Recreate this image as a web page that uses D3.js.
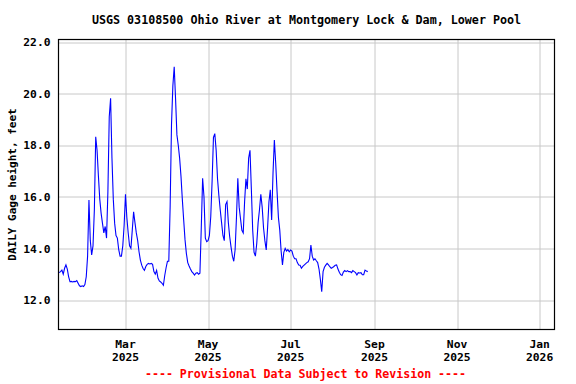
<!DOCTYPE html>
<html>
<head>
<meta charset="utf-8">
<script src="https://cdn.jsdelivr.net/npm/d3@7"></script>
<style>
  body { margin: 0; background: #fff; }
  text { font-family: "DejaVu Sans Mono", "Liberation Mono", monospace; font-weight: bold; }
</style>
</head>
<body>
<div id="chart"></div>
<script>
// daily gage height, one value per day starting Jan 11 2025
const startDate = new Date(2025, 0, 11);
const gageHeight = [
  13.06, 13.1, 13.16, 13.0, 13.23, 13.36, 13.2, 12.9, 12.71, 12.72, 12.7, 12.72, 12.71, 12.75, 12.65, 12.55, 12.52, 12.55, 12.52, 12.6, 12.9,
  13.7, 15.88, 14.3, 13.75, 14.1, 15.5, 18.33, 17.8, 16.8, 15.9, 15.36, 14.97, 14.6, 14.85, 14.4, 16.2, 19.1, 19.82, 17.5, 15.9, 14.97,
  14.5, 14.4, 13.95, 13.7, 13.7, 14.1, 14.9,
  16.1, 15.2, 14.6, 14.1, 14.0, 14.7, 15.42, 15.0, 14.6, 14.3, 13.87, 13.55, 13.35, 13.22, 13.15, 13.3, 13.38, 13.42, 13.4, 13.42, 13.38,
  13.1, 13.0, 13.15, 12.85, 12.74, 12.7, 12.65, 12.57, 12.95, 13.25, 13.5, 13.5, 15.62, 18.8, 20.3, 21.04, 19.8, 18.4, 18.0, 17.5, 16.8,
  15.9, 15.1, 14.33, 13.8, 13.45, 13.32, 13.2, 13.1,
  13.04, 12.97, 13.04, 13.06, 13.0, 13.04, 14.8, 16.72, 16.0, 14.4, 14.26, 14.3, 14.5, 15.23, 16.6, 18.3, 18.45, 17.8, 16.7, 16.05, 15.5,
  15.0, 14.5, 14.3, 15.7, 15.81, 15.0, 14.45, 14.05, 13.7, 13.5, 13.95, 15.2, 16.72, 15.6, 15.15, 14.7, 14.6, 15.8, 16.7, 16.3, 17.5,
  17.8, 16.3, 14.7, 13.85, 13.7, 14.2, 15.0, 15.5,
  16.1, 15.6, 14.8, 14.3, 13.94, 14.8, 15.81, 16.27, 15.1, 16.9, 18.2, 17.3, 16.2, 15.2, 14.71, 13.9, 13.36, 13.85, 14.0, 13.9, 13.95,
  13.87, 13.94, 13.9, 13.7, 13.6, 13.6, 13.45, 13.36, 13.35, 13.23, 13.3, 13.35, 13.4, 13.45, 13.48, 13.6, 14.13, 13.7, 13.55, 13.6,
  13.52, 13.45, 13.2, 12.8, 12.32, 13.1, 13.27, 13.35, 13.42, 13.36, 13.29, 13.23, 13.26, 13.3, 13.35, 13.36, 13.2, 13.08, 12.98, 12.95,
  13.08, 13.14, 13.1, 13.14, 13.1, 13.1, 13.06, 13.14, 13.1, 13.06, 12.97, 13.06, 13.05, 13.06, 12.98, 12.98, 13.16, 13.12, 13.1
];

const yTicks = [12, 14, 16, 18, 20, 22];
const xTickDates = [new Date(2025, 2, 1), new Date(2025, 4, 1), new Date(2025, 6, 1),
                    new Date(2025, 8, 1), new Date(2025, 10, 1), new Date(2026, 0, 1)];
const titleText = "USGS 03108500 Ohio River at Montgomery Lock & Dam, Lower Pool";
const yLabel = "DAILY Gage height, feet";
const footerText = "---- Provisional Data Subject to Revision ----";

function drawChart() {
    const width = 576, height = 384;
    const margin = { top: 39.5, right: 21.5, bottom: 54.5, left: 58.5 };
    const innerWidth = width - margin.left - margin.right;
    const innerHeight = height - margin.top - margin.bottom;

    const svg = d3.select("#chart").append("svg")
        .attr("width", width)
        .attr("height", height);

    const g = svg.append("g").attr("transform", `translate(${margin.left},${margin.top})`);

    const x = d3.scaleTime()
        .domain([new Date(2025, 0, 10, 12), new Date(2026, 0, 12)])
        .range([0, innerWidth]);
    const y = d3.scaleLinear().domain([10.857, 22.097]).range([innerHeight, 0]);

    // grid
    g.append("g").selectAll("line").data(yTicks).enter().append("line")
        .attr("x1", 0).attr("x2", innerWidth)
        .attr("y1", d => Math.round(y(d)) + 0.5).attr("y2", d => Math.round(y(d)) + 0.5)
        .attr("stroke", "#c8c8c8");
    g.append("g").selectAll("line").data(xTickDates).enter().append("line")
        .attr("x1", d => Math.round(x(d)) + 0.5).attr("x2", d => Math.round(x(d)) + 0.5)
        .attr("y1", 0).attr("y2", innerHeight)
        .attr("stroke", "#c8c8c8");

    // y labels
    g.append("g").call(d3.axisLeft(y).tickValues(yTicks).tickSize(0).tickPadding(8).tickFormat(d3.format(".1f")))
        .call(a => a.select(".domain").remove())
        .selectAll("text")
        .attr("fill", "#000")
        .style("font-size", "11.3px")
        .style("font-family", "DejaVu Sans Mono")
        .style("font-weight", "bold");

    // x labels, two lines
    const xl = g.append("g").selectAll("text").data(xTickDates).enter().append("text")
        .attr("x", d => x(d))
        .attr("text-anchor", "middle")
        .style("font-size", "11.3px");
    xl.append("tspan").attr("x", d => x(d)).attr("y", innerHeight + 18).text(d3.timeFormat("%b"));
    xl.append("tspan").attr("x", d => x(d)).attr("y", innerHeight + 31).text(d3.timeFormat("%Y"));

    // data line
    const series = gageHeight.map((v, i) => ({ date: d3.timeDay.offset(startDate, i), value: v }));
    const line = d3.line().x(d => x(d.date)).y(d => y(d.value));
    g.append("path").datum(series)
        .attr("fill", "none")
        .attr("stroke", "#0000ff")
        .attr("stroke-width", 1.1)
        .attr("d", line);

    // frame
    g.append("rect").attr("x", 0).attr("y", 0)
        .attr("width", innerWidth).attr("height", innerHeight)
        .attr("fill", "none").attr("stroke", "#000").attr("stroke-width", 1.2);

    // title
    svg.append("text")
        .attr("x", margin.left + innerWidth / 2).attr("y", 24)
        .attr("text-anchor", "middle")
        .style("font-size", "11.7px")
        .text(titleText);

    // y axis title
    svg.append("text")
        .attr("transform", `translate(16,${margin.top + innerHeight / 2}) rotate(-90)`)
        .attr("text-anchor", "middle")
        .style("font-size", "11px")
        .text(yLabel);

    // footer
    svg.append("text")
        .attr("x", 305.5).attr("y", 378)
        .attr("text-anchor", "middle")
        .attr("fill", "#ff0000")
        .style("font-size", "11.6px")
        .text(footerText);
}

drawChart();
</script>
</body>
</html>
